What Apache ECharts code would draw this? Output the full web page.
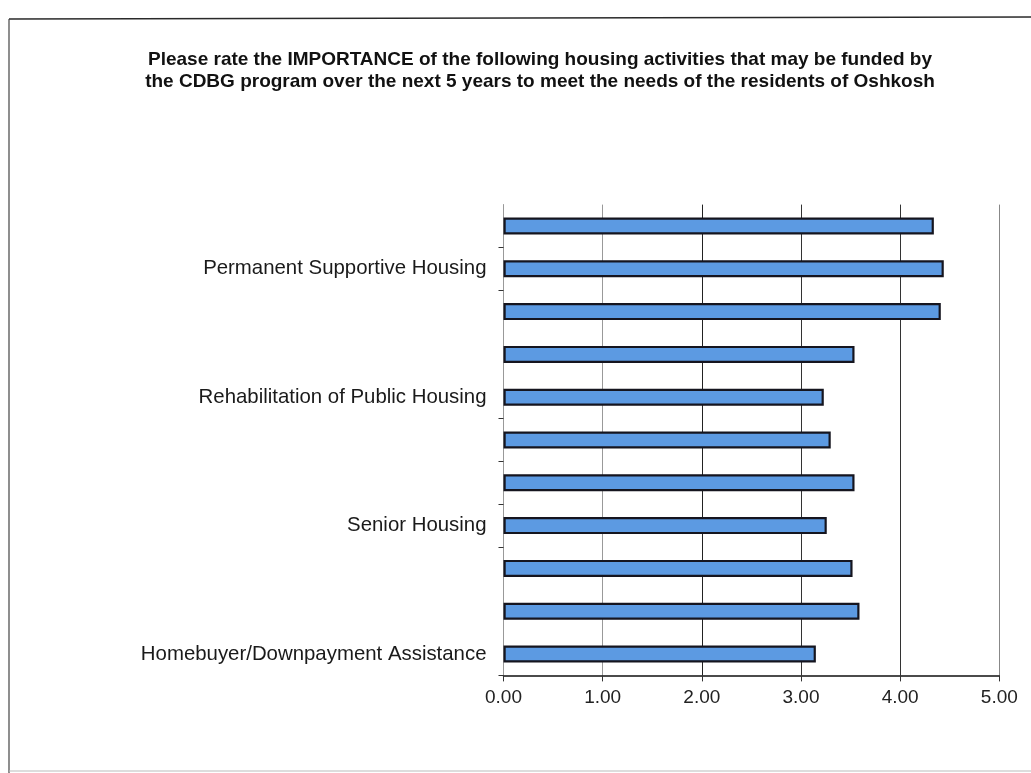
<!DOCTYPE html>
<html>
<head>
<meta charset="utf-8">
<style>
  html, body { margin: 0; padding: 0; background: #fff; }
  #chart { width: 1031px; height: 773px; }
</style>
<script src="https://cdn.jsdelivr.net/npm/echarts@6/dist/echarts.min.js"></script>
</head>
<body>
<div id="chart"></div>
<script>
// Housing activities, top to bottom; only every third one carries a label
const categories = [
  '',
  'Permanent Supportive Housing',
  '',
  '',
  'Rehabilitation of Public Housing',
  '',
  '',
  'Senior Housing',
  '',
  '',
  'Homebuyer/Downpayment Assistance'
];

// Average importance rating for each activity
const ratings = [4.34, 4.44, 4.41, 3.54, 3.23, 3.30, 3.54, 3.26, 3.52, 3.59, 3.15];

// Rating scale ticks
const xMin = 0;
const xMax = 5;
const xStep = 1;

const titleText = 'Please rate the IMPORTANCE of the following housing activities that may be funded by\n' +
  'the CDBG program over the next 5 years to meet the needs of the residents of Oshkosh';

const chart = echarts.init(document.getElementById('chart'), null, { renderer: 'canvas' });

chart.setOption({
  backgroundColor: '#ffffff',
  animation: false,
  title: {
    text: titleText,
    left: 535,
    top: 44,
    textAlign: 'center',
    textStyle: {
      fontFamily: 'Liberation Sans, Arial, sans-serif',
      fontSize: 19,
      fontWeight: 'bold',
      color: '#111',
      lineHeight: 22
    }
  },
  grid: {
    left: 503.5,
    right: 31.7,
    top: 204.6,
    bottom: 97.6,
    containLabel: false
  },
  xAxis: {
    type: 'value',
    min: xMin,
    max: xMax,
    interval: xStep,
    axisLine: { show: true, lineStyle: { color: '#111', width: 1.5 } },
    axisTick: { show: true, length: 6, lineStyle: { color: '#333' } },
    axisLabel: {
      margin: 13,
      fontFamily: 'Liberation Sans, Arial, sans-serif',
      fontSize: 19,
      color: '#222',
      formatter: v => v.toFixed(2)
    },
    splitLine: {
      show: true,
      lineStyle: { color: ['#bbb', '#999', '#222', '#333', '#333', '#888'], width: 1 }
    }
  },
  yAxis: {
    type: 'category',
    inverse: true,
    data: categories,
    axisLine: { show: true, lineStyle: { color: '#999', width: 1 } },
    axisTick: {
      show: true,
      length: 5,
      interval: (i) => [1, 2, 5, 6, 7, 8].indexOf(i) >= 0,
      lineStyle: { color: '#333' }
    },
    axisLabel: {
      interval: 0,
      margin: 17,
      fontFamily: 'Liberation Sans, Arial, sans-serif',
      fontSize: 20.4,
      color: '#1a1a1a'
    },
    splitLine: { show: false }
  },
  series: [{
    type: 'bar',
    data: ratings,
    barWidth: 17,
    itemStyle: {
      color: '#5c9ae2',
      borderColor: '#15151f',
      borderWidth: 2.2
    }
  }],
  graphic: [
    // page frame edges
    { type: 'line', shape: { x1: 9, y1: 19, x2: 1031, y2: 17 }, style: { stroke: '#2a2a2a', lineWidth: 1.5 } },
    { type: 'line', shape: { x1: 9, y1: 19, x2: 9, y2: 773 }, style: { stroke: '#444', lineWidth: 1.2 } },
    { type: 'line', shape: { x1: 9, y1: 771, x2: 1031, y2: 771 }, style: { stroke: '#bbb', lineWidth: 1 } }
  ]
});
</script>
</body>
</html>
